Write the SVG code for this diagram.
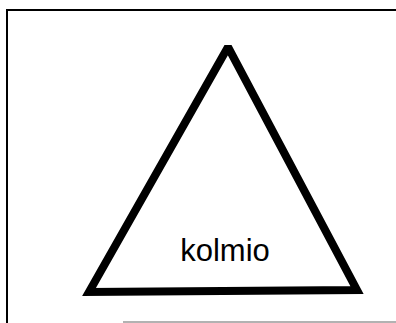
<svg xmlns="http://www.w3.org/2000/svg" width="396" height="323" viewBox="0 0 396 323">
<style>
.frame{fill:none;stroke:#000;stroke-width:2}
.tri{fill:#fff;stroke:#000;stroke-width:8;stroke-linejoin:miter;stroke-miterlimit:2.03}
.lbl{font-family:"Liberation Sans",Arial,sans-serif;font-size:31px;fill:#000}
</style>
<rect width="396" height="323" fill="#fff"/>
<g id="frame">
<path class="frame" d="M7,323 V10 H396"/>
<line x1="123" y1="322" x2="396" y2="322" stroke="#999" stroke-width="1.5"/>
</g>
<g id="kolmio">
<polygon class="tri" points="228,47 89,292 357,290"/>
<text class="lbl" x="225" y="261" text-anchor="middle">kolmio</text>
</g>
</svg>
